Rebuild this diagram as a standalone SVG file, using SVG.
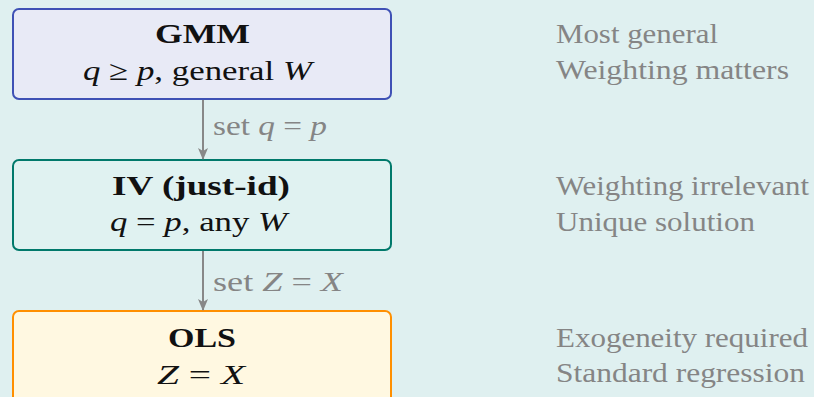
<svg xmlns="http://www.w3.org/2000/svg" width="814" height="397" viewBox="0 0 814 397">
<style>
.t{font-family:"Liberation Serif","Times New Roman",serif;font-size:28px;fill:#111;text-anchor:middle}
.b{font-weight:bold}
.i{font-style:italic}
.n{font-family:"Liberation Serif","Times New Roman",serif;font-size:28px;fill:#858585}
.box{stroke-width:2}
.edge{stroke:#888;stroke-width:2;fill:none}
</style>
<defs>
<marker id="ah" viewBox="0 0 12 12" refX="11" refY="6" markerWidth="12" markerHeight="12" markerUnits="userSpaceOnUse" orient="auto">
<path d="M0,1 L12,6 L0,11 L3,6 Z" fill="#888"/>
</marker>
</defs>
<rect width="814" height="397" fill="#dff0f0"/>
<g id="gmm">
<rect class="box" x="13" y="9" width="378" height="90" rx="6" fill="#e8eaf6" stroke="#3f51b5"/>
<text class="t b" x="202.5" y="43" textLength="95" lengthAdjust="spacingAndGlyphs">GMM</text>
<text class="t" x="197.5" y="80" textLength="229" lengthAdjust="spacingAndGlyphs"><tspan class="i">q</tspan> ≥ <tspan class="i">p</tspan>, general <tspan class="i">W</tspan></text>
</g>
<g id="iv">
<rect class="box" x="13" y="160" width="378" height="90" rx="6" fill="#e0f2f1" stroke="#00796b"/>
<text class="t b" x="201" y="195" textLength="178" lengthAdjust="spacingAndGlyphs">IV (just-id)</text>
<text class="t" x="198.5" y="231" textLength="177" lengthAdjust="spacingAndGlyphs"><tspan class="i">q</tspan> = <tspan class="i">p</tspan>, any <tspan class="i">W</tspan></text>
</g>
<g id="ols">
<rect class="box" x="13" y="311" width="378" height="100" rx="6" fill="#fff8e1" stroke="#ff8f00"/>
<text class="t b" x="202" y="347" textLength="68" lengthAdjust="spacingAndGlyphs">OLS</text>
<text class="t" x="201" y="384" textLength="88" lengthAdjust="spacingAndGlyphs"><tspan class="i">Z</tspan> = <tspan class="i">X</tspan></text>
</g>
<g id="connectors">
<line class="edge" x1="203" y1="100" x2="203" y2="159" marker-end="url(#ah)"/>
<text class="n" x="213" y="135" textLength="114" lengthAdjust="spacingAndGlyphs">set <tspan class="i">q</tspan> = <tspan class="i">p</tspan></text>
<line class="edge" x1="203" y1="251" x2="203" y2="310" marker-end="url(#ah)"/>
<text class="n" x="213" y="291" textLength="130" lengthAdjust="spacingAndGlyphs">set <tspan class="i">Z</tspan> = <tspan class="i">X</tspan></text>
</g>
<g id="notes">
<text class="n" x="556" y="43" textLength="162" lengthAdjust="spacingAndGlyphs">Most general</text>
<text class="n" x="556" y="79" textLength="233" lengthAdjust="spacingAndGlyphs">Weighting matters</text>
<text class="n" x="556" y="195" textLength="253" lengthAdjust="spacingAndGlyphs">Weighting irrelevant</text>
<text class="n" x="556" y="231" textLength="199" lengthAdjust="spacingAndGlyphs">Unique solution</text>
<text class="n" x="556" y="347" textLength="252" lengthAdjust="spacingAndGlyphs">Exogeneity required</text>
<text class="n" x="556" y="382" textLength="249" lengthAdjust="spacingAndGlyphs">Standard regression</text>
</g>
</svg>
